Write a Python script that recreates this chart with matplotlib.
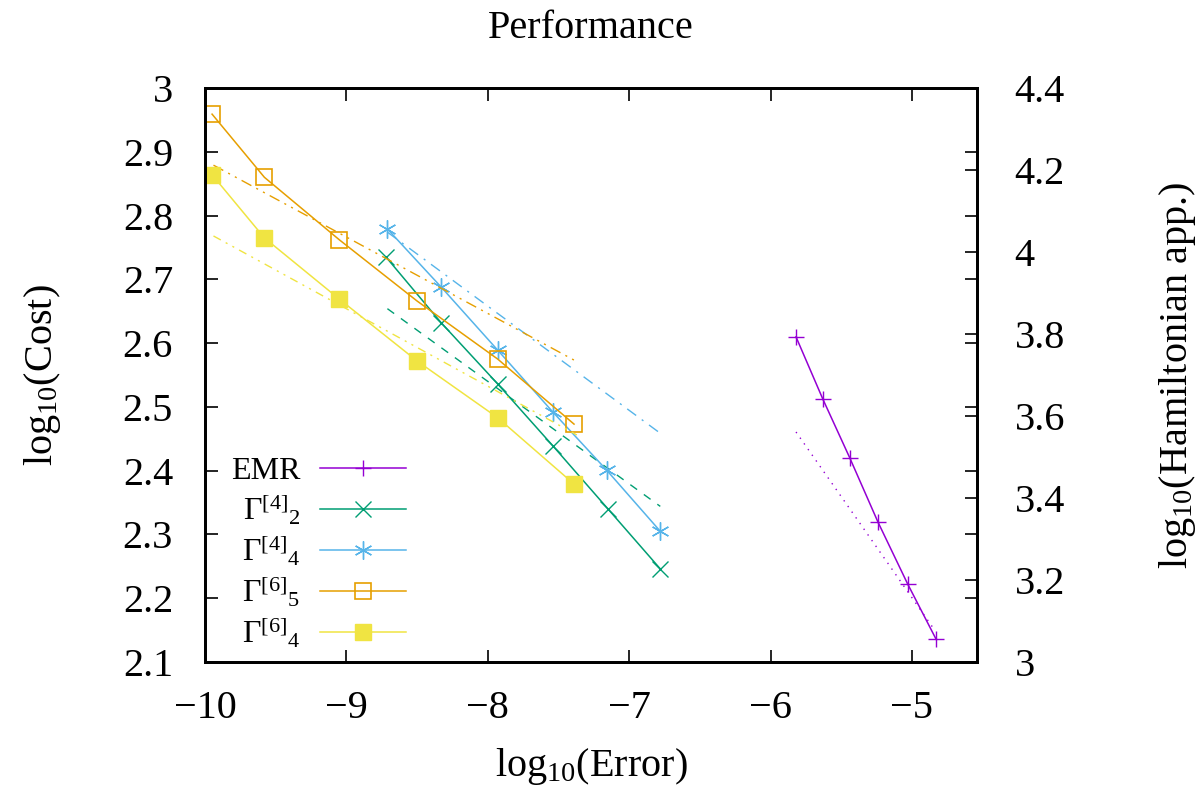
import numpy as np
import matplotlib
matplotlib.use("Agg")
import matplotlib.pyplot as plt
from matplotlib.ticker import FormatStrFormatter, FixedLocator

plt.rcParams['font.family'] = 'Liberation Serif'
plt.rcParams['mathtext.fontset'] = 'custom'
plt.rcParams['mathtext.rm'] = 'Liberation Serif'
plt.rcParams['mathtext.it'] = 'Liberation Serif:italic'
plt.rcParams['mathtext.bf'] = 'Liberation Serif:bold'
plt.rcParams['axes.unicode_minus'] = True

# data (log10 error vs log10 cost)
x_g65 = [-9.95, -9.58, -9.05, -8.50, -7.93, -7.39]
y_g65 = [2.959, 2.860, 2.762, 2.666, 2.575, 2.473]
x_g64 = [-9.95, -9.58, -9.05, -8.50, -7.93, -7.39]
y_g64 = [2.864, 2.765, 2.669, 2.572, 2.483, 2.379]
x_g44 = [-8.71, -8.33, -7.93, -7.54, -7.16, -6.78]
y_g44 = [2.779, 2.688, 2.589, 2.492, 2.401, 2.305]
x_g42 = [-8.72, -8.33, -7.93, -7.54, -7.15, -6.78]
y_g42 = [2.735, 2.632, 2.536, 2.439, 2.340, 2.246]
# EMR on the right axis (Hamiltonian applications)
x_emr = [-5.82, -5.63, -5.44, -5.24, -5.03, -4.83]
y_emr = [3.793, 3.641, 3.498, 3.341, 3.190, 3.056]

# fitted lines (start/end)
fit_g65 = ([-9.94, -7.37], [2.879, 2.571])
fit_g64 = ([-9.94, -7.37], [2.768, 2.456])
fit_g44 = ([-8.71, -6.77], [2.774, 2.457])
fit_g42 = ([-8.71, -6.78], [2.654, 2.344])
fit_emr = ([-5.82, -4.84], [3.561, 3.078])

purple = '#9400D3'
green = '#009E73'
blue = '#56B4E9'
orange = '#E69F00'
yellow = '#F0E442'

fig = plt.figure(figsize=(12.04, 7.89), dpi=100)
ax = fig.add_axes([205/1204, 1-662/789, (977-205)/1204, (662-88)/789])
ax2 = ax.twinx()

lw = 1.1
ms = 11

l_emr, = ax2.plot(x_emr, y_emr, color=purple, lw=lw, marker='+', ms=ms, mew=1.0, label='EMR')
ax2.plot(*fit_emr, color=purple, lw=1.0, dashes=(1, 4))

l42, = ax.plot(x_g42, y_g42, color=green, lw=lw, marker='x', ms=ms, mew=1.0)
ax.plot(*fit_g42, color=green, lw=1.0, dashes=(6, 6))

l44, = ax.plot(x_g44, y_g44, color=blue, lw=lw, marker=(6, 2, 0), ms=ms + 2, mew=1.0)
ax.plot(*fit_g44, color=blue, lw=1.0, dashes=(8, 5, 1.5, 5))

l65, = ax.plot(x_g65, y_g65, color=orange, lw=lw, marker='s', ms=ms, mfc='none', mew=1.2)
ax.plot(*fit_g65, color=orange, lw=1.0, dashes=(8, 4, 1.5, 4, 1.5, 4))

l64, = ax.plot(x_g64, y_g64, color=yellow, lw=lw, marker='s', ms=ms, mec=yellow, mfc=yellow)
ax.plot(*fit_g64, color=yellow, lw=1.0, dashes=(6, 4, 1.5, 4, 1.5, 4))

ax.set_xlim(-10, -4.54)
ax.set_ylim(2.1, 3.0)
ax2.set_ylim(3.0, 4.4)

ax.xaxis.set_major_locator(FixedLocator([-10, -9, -8, -7, -6, -5]))
ax.yaxis.set_major_locator(FixedLocator(np.arange(2.1, 3.001, 0.1)))
ax2.yaxis.set_major_locator(FixedLocator(np.arange(3.0, 4.401, 0.2)))
ax.yaxis.set_major_formatter(FormatStrFormatter('%g'))
ax2.yaxis.set_major_formatter(FormatStrFormatter('%g'))

fs = 29
ax.tick_params(axis='both', direction='in', length=9, width=1.2, top=True, right=True,
               labelsize=fs)
ax.tick_params(axis='y', pad=23)
ax.tick_params(axis='x', pad=20)
ax2.tick_params(axis='y', direction='in', length=9, width=1.2, labelsize=fs, pad=27)

for sp in ax.spines.values():
    sp.set_linewidth(2)
for sp in ax2.spines.values():
    sp.set_linewidth(2)

ax.set_title('Performance', fontsize=fs, pad=36)
ax.set_xlabel(r'log$_{10}$(Error)', fontsize=fs, labelpad=14)
ax.set_ylabel(r'log$_{10}$(Cost)', fontsize=fs, labelpad=43)
ax2.set_ylabel(r'log$_{10}$(Hamiltonian app.)', fontsize=fs, labelpad=66)

labels = ['EMR', r'$\Gamma^{[4]}{}_{2}$', r'$\Gamma^{[4]}{}_{4}$',
          r'$\Gamma^{[6]}{}_{5}$', r'$\Gamma^{[6]}{}_{4}$']
leg = ax.legend([l_emr, l42, l44, l65, l64], labels, loc='lower left',
                bbox_to_anchor=(0.017, -0.0025), frameon=False, markerfirst=False,
                numpoints=1, fontsize=23, handlelength=2.7, labelspacing=0.19,
                handletextpad=0.6, borderaxespad=0.0)
for t in leg.get_texts():
    t.set_ha('right')

fig.savefig('out.png', dpi=100)
